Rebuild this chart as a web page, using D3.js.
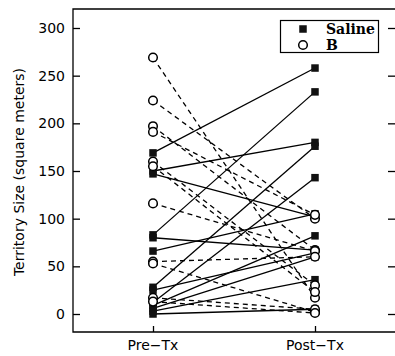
<!DOCTYPE html>
<html><head><meta charset="utf-8">
<script src="https://cdn.jsdelivr.net/npm/d3@7"></script>
<style>body{margin:0;background:#fff}</style>
</head><body>
<svg id="c" width="395" height="356"></svg>
<script>
const categories = ["Pre-Tx", "Post-Tx"];
const yTicks = [0, 50, 100, 150, 200, 250, 300];
const salinePre  = [169, 150, 147, 83, 80, 66, 28, 25, 12, 9, 6, 3, 0];
const salinePost = [258, 180, 102, 233, 67, 105, 176, 64, 143, 82, 60, 36, 5];
const bPre  = [269, 224, 197, 191, 160, 155, 116, 55, 53, 17, 13];
const bPost = [17, 100, 67, 104, 30, 23, 66, 60, 2, 5, 1];
const legendLabels = ["Saline", "B"];

const svg = d3.select("#c");
const L = 73, R = 395, T = 9, B = 332;
const y = d3.scaleLinear().domain([0, 300]).range([314, 28]);
const x = d3.scalePoint().domain(categories).range([153, 315]);

// frame
svg.append("path").attr("d", `M${R},${T}H${L}V${B}H${R}`)
  .attr("fill", "none").attr("stroke", "#000").attr("stroke-width", 1.3);

// left axis ticks inward
const ya = svg.append("g").attr("transform", `translate(${L},0)`)
  .call(d3.axisRight(y).tickValues(yTicks).tickSize(7).tickFormat(""));
ya.select(".domain").remove();
ya.selectAll("line").attr("stroke-width", 1.3);
svg.selectAll(".ylab").data(yTicks).enter().append("text")
  .attr("x", 65).attr("y", d => y(d) + 5).attr("text-anchor", "end")
  .attr("font-family", "DejaVu Sans").attr("font-size", 14).text(d => d);
// right ticks inward
const yr = svg.append("g").attr("transform", `translate(${R},0)`)
  .call(d3.axisLeft(y).tickValues(yTicks).tickSize(7).tickFormat(""));
yr.select(".domain").remove();
yr.selectAll("line").attr("stroke-width", 1.3);
// bottom ticks inward
const xa = svg.append("g").attr("transform", `translate(0,${B})`)
  .call(d3.axisTop(x).tickSize(6).tickFormat(""));
xa.select(".domain").remove();
xa.selectAll("line").attr("stroke-width", 1.3);
svg.selectAll(".xlab").data(categories).enter().append("text")
  .attr("x", d => x(d)).attr("y", 350).attr("text-anchor", "middle")
  .attr("font-family", "DejaVu Sans").attr("font-size", 14).text(d => d.replace("-", "\u2212"));

svg.append("text").attr("transform", "translate(24,172) rotate(-90)")
  .attr("text-anchor", "middle").attr("font-family", "DejaVu Sans").attr("font-size", 14)
  .text("Territory Size (square meters)");

// lines
const g = svg.append("g");
bPre.forEach((v, i) => {
  g.append("line").attr("x1", x(categories[0])).attr("y1", y(v))
    .attr("x2", x(categories[1])).attr("y2", y(bPost[i]))
    .attr("stroke", "#000").attr("stroke-width", 1.3).attr("stroke-dasharray", "5,4");
});
salinePre.forEach((v, i) => {
  g.append("line").attr("x1", x(categories[0])).attr("y1", y(v))
    .attr("x2", x(categories[1])).attr("y2", y(salinePost[i]))
    .attr("stroke", "#000").attr("stroke-width", 1.3);
});
const sq = 7.5;
function squares(vals, cat) {
  g.selectAll(null).data(vals).enter().append("rect")
    .attr("x", x(cat) - sq / 2).attr("y", d => y(d) - sq / 2)
    .attr("width", sq).attr("height", sq).attr("fill", "#111");
}
function circles(vals, cat) {
  g.selectAll(null).data(vals).enter().append("circle")
    .attr("cx", x(cat)).attr("cy", d => y(d)).attr("r", 4.3)
    .attr("fill", "#fff").attr("stroke", "#000").attr("stroke-width", 1.5);
}
squares(salinePre, categories[0]); squares(salinePost, categories[1]);
circles(bPre, categories[0]); circles(bPost, categories[1]);

// legend
svg.append("rect").attr("x", 280.5).attr("y", 20.5).attr("width", 98).attr("height", 32)
  .attr("fill", "#fff").attr("stroke", "#000").attr("stroke-width", 1.2);
svg.append("rect").attr("x", 303 - sq / 2).attr("y", 29 - sq / 2).attr("width", sq).attr("height", sq).attr("fill", "#111");
svg.append("circle").attr("cx", 303).attr("cy", 45).attr("r", 4.3).attr("fill", "#fff").attr("stroke", "#000").attr("stroke-width", 1.5);
svg.selectAll(".leg").data(legendLabels).enter().append("text")
  .attr("x", 326).attr("y", (d, i) => 34 + i * 16)
  .attr("font-family", "DejaVu Serif").attr("font-weight", "bold").attr("font-size", 14).text(d => d);
</script>
</body></html>
